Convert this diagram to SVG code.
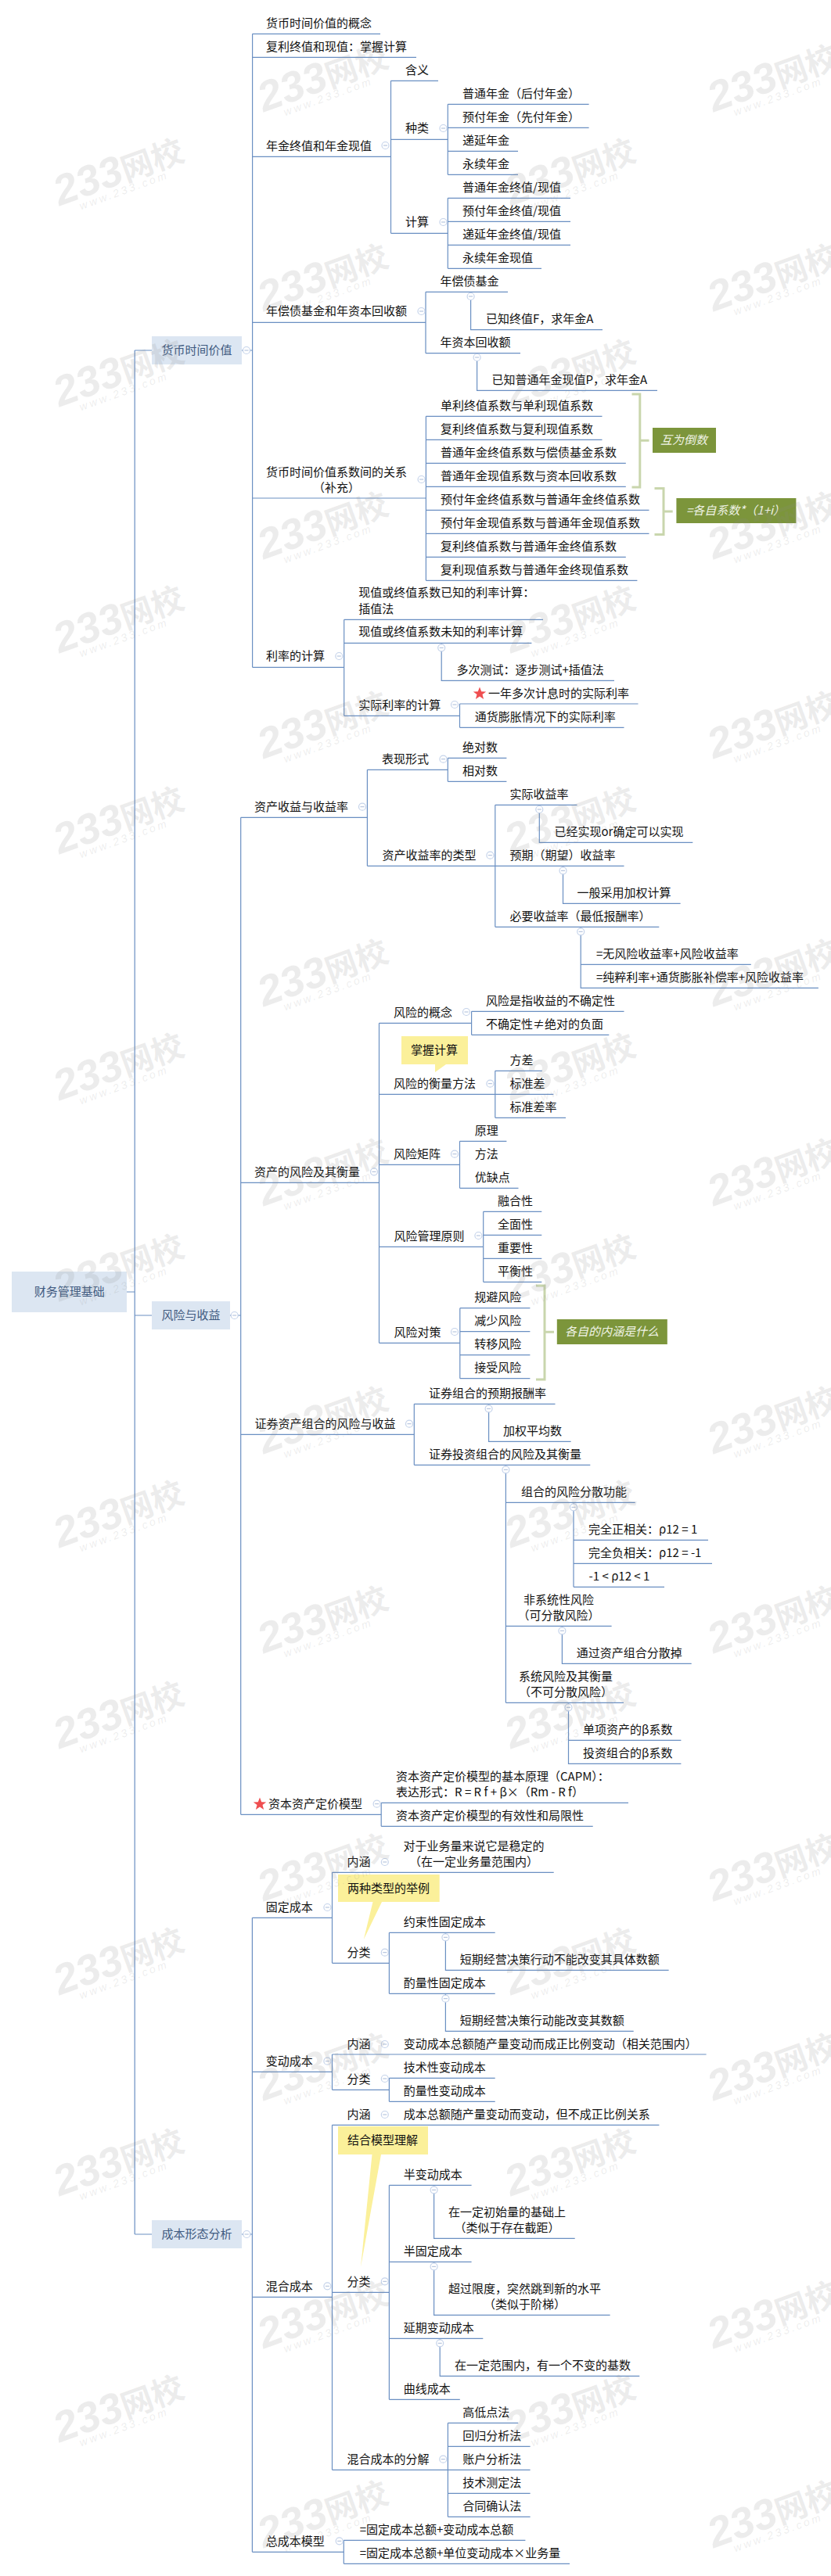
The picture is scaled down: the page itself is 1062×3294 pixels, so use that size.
<svg xmlns="http://www.w3.org/2000/svg" xmlns:xlink="http://www.w3.org/1999/xlink" width="1062" height="3294" viewBox="0 0 1062 3294">
<style>
text{font-family:"Noto Sans CJK SC","Liberation Sans",sans-serif;font-size:15px;fill:#111}
.m{text-anchor:middle}
.tp{fill:#3f5a80}
.i{font-style:italic;fill:#eef2e4}
.c{fill:none;stroke:#6a8fc2;stroke-width:1.2}
.b{fill:none;stroke:#c9d6ad;stroke-width:3}
.topic{fill:#dce6f2}
.green{fill:#7c953b}
.y{fill:#fbf09a}
.t{fill:#fff;stroke:#c5d3ea;stroke-width:1.2}
.tm{stroke:#a9bbd8;stroke-width:1;fill:none}
.s{fill:#ef4e50}
text.w1,text.w2{fill:#8a8a8a;fill-opacity:.16;text-anchor:middle}
text.w1{font-family:"Liberation Sans","Noto Sans CJK SC",sans-serif;font-size:54px;font-weight:700;font-style:italic}
.w1 tspan{font-family:"Noto Sans CJK SC",sans-serif;font-size:41px;font-style:normal}
text.w2{font-family:"Liberation Sans",sans-serif;font-size:14px;font-style:italic;letter-spacing:3px}
</style>
<defs>
<g id="tg"><circle class="t" r="4.5"/><path class="tm" d="M-2.5 0H2.5"/></g>
<polygon id="star" class="s" points="0,-8.5 2.2,-2.7 8.2,-2.6 3.5,1.1 5.1,7 0,3.6 -5.1,7 -3.5,1.1 -8.2,-2.6 -2.2,-2.7"/>
<g id="wm"><text class="w1" y="15">233<tspan>网校</tspan></text><text class="w2" x="-2" y="29">www.233.com</text></g>
</defs>
<rect width="1062" height="3294" fill="#fff"/>

<g id="brackets">
<path class="b" d="M807.5 504H817.8V623H807.5M817.8 563.3H829.5"/>
<path class="b" d="M836.5 624.5H848V683.5H836.5M848 654H859.7"/>
<path class="b" d="M685 1644H696V1764H685M696 1703.3H708"/>
</g>

<g id="connectors">
<path class="c" d="M162 1652H172.2M172.2 448V2857M172.2 448H194M172.2 1682H194M172.2 2857H194"/>
<path class="c" d="M309 448H322.6M322.6 43.3V853.3M322.6 43.3H486M322.6 73.3H532M322.6 200.3H499.5M322.6 412.3H544M322.6 637H544.4M322.6 853.3H439.7"/>
<path class="c" d="M499.5 103.3V298.3M499.5 103.3H560M499.5 178.3H572.3M499.5 298.3H572.3"/>
<path class="c" d="M572.3 133.3V223.3M572.3 133.3H752.6M572.3 163.3H752.6M572.3 193.3H662M572.3 223.3H662"/>
<path class="c" d="M572.3 253.3V343.3M572.3 253.3H729M572.3 283.3H729M572.3 313.3H729M572.3 343.3H692"/>
<path class="c" d="M544 373.3V451.7M544 373.3H649M544 451.7H665M601.6 373.3V421.7H770M609.6 451.7V499.3H840"/>
<path class="c" d="M544.4 532.3V742.3M544.4 532.3H769.5M544.4 562.3H769.5M544.4 592.3H799.8M544.4 622.3H799.8M544.4 652.3H829.5M544.4 682.3H829.5M544.4 712.3H799.8M544.4 742.3H814.4"/>
<path class="c" d="M439.7 792.3V915.3M439.7 792.3H694M439.7 822.3H679.4M439.7 915.3H587.5M564.2 822.3V870.3H785M587.5 900V930.3M587.5 900H815.5M587.5 930.3H797.5"/>
<path class="c" d="M294 1682H307.7M307.7 1045.3V2320.3M307.7 1045.3H469.4M307.7 1512.3H484.5M307.7 1834.3H529.3M307.7 2320.3H487.2"/>
<path class="c" d="M469.4 984.3V1107.3M469.4 984.3H572.3M469.4 1107.3H797.5M572.3 969.3V999.3M572.3 969.3H647.4M572.3 999.3H647.4"/>
<path class="c" d="M632.8 1029.3V1185.3M632.8 1029.3H737.5M632.8 1185.3H842.3M689.3 1029.3V1077.3H885.3M719.5 1107.3V1155.3H869.6M742.2 1185.3V1263.3H1045.9M742.2 1233.3H959.8"/>
<path class="c" d="M484.5 1308.3V1717.3M484.5 1308.3H602.6M484.5 1399.3H707.3M484.5 1489.3H587.5M484.5 1594.3H617.7M484.5 1717.3H587.8"/>
<path class="c" d="M602.6 1293.3V1323.3M602.6 1293.3H797.5M602.6 1323.3H778.3M632.8 1369.3V1429.3M632.8 1369.3H692.8M632.8 1429.3H723"/>
<path class="c" d="M587.5 1459.3V1519.3M587.5 1459.3H647.4M587.5 1519.3H662.5"/>
<path class="c" d="M617.7 1549.3V1639.3M617.7 1549.3H692.3M617.7 1579.3H692.3M617.7 1609.3H692.3M617.7 1639.3H692.3"/>
<path class="c" d="M587.8 1672.7V1762.7M587.8 1672.7H677.4M587.8 1702.7H677.4M587.8 1732.7H677.4M587.8 1762.7H677.4"/>
<path class="c" d="M529.3 1795.3V1873.3M529.3 1795.3H709.5M529.3 1873.3H754.3M624.6 1795.3V1843.3H729.6"/>
<path class="c" d="M646.4 1873.3V2177.3M646.4 1921.3H811.7M646.4 2079.3H781.6M646.4 2177.3H797"/>
<path class="c" d="M733 1921.3V2029.3M733 1969.3H905M733 1999.3H910M733 2029.3H849M718.4 2079.3V2127.3H883.7M726.5 2177.3V2255.3H870.4M726.5 2225.3H870.4"/>
<path class="c" d="M487.2 2305.3V2335.3M487.2 2305.3H803M487.2 2335.3H757.7"/>
<path class="c" d="M309 2857H322.4M322.4 2452.3V3263.3M322.4 2452.3H424.5M322.4 2649.3H424.5M322.4 2937.3H424.5M322.4 3263.3H439.3"/>
<path class="c" d="M424.5 2394.3V2510.3M424.5 2394.3H707.7M424.5 2510.3H497.4M497.4 2471.3V2549.3M497.4 2471.3H632.7M497.4 2549.3H632.7M569.4 2471.3V2519.3H854.6M569.4 2549.3V2597.3H809.7"/>
<path class="c" d="M424.5 2627V2672.3M424.5 2627H902.6M424.5 2672.3H497.4M497.4 2657.3V2687.3M497.4 2657.3H632.7M497.4 2687.3H632.7"/>
<path class="c" d="M424.5 2717.3V3158.3M424.5 2717.3H842.4M424.5 2931.3H497.4M424.5 3158.3H572.4"/>
<path class="c" d="M497.4 2794.3V3068.3M497.4 2794.3H602.6M497.4 2892.3H602.6M497.4 2990.3H617.3M497.4 3068.3H587.8M554.6 2794.3V2862.3H734.7M554.6 2892.3V2960.3H779.6M562.2 2990.3V3038.3H817.3"/>
<path class="c" d="M572.4 3098.3V3218.3M572.4 3098.3H662.2M572.4 3128.3H677.6M572.4 3158.3H677.6M572.4 3188.3H677.6M572.4 3218.3H677.6"/>
<path class="c" d="M439.3 3248.3V3278.3M439.3 3248.3H671.4M439.3 3278.3H728"/>
</g>

<g id="toggles">
<use xlink:href="#tg" href="#tg" x="315" y="448"/><use xlink:href="#tg" href="#tg" x="492.5" y="186"/><use xlink:href="#tg" href="#tg" x="566.5" y="164"/><use xlink:href="#tg" href="#tg" x="566.5" y="284"/><use xlink:href="#tg" href="#tg" x="538.5" y="398"/><use xlink:href="#tg" href="#tg" x="601.6" y="379"/><use xlink:href="#tg" href="#tg" x="609.6" y="457"/><use xlink:href="#tg" href="#tg" x="538.6" y="613"/><use xlink:href="#tg" href="#tg" x="433.3" y="839"/><use xlink:href="#tg" href="#tg" x="564.2" y="828.3"/><use xlink:href="#tg" href="#tg" x="581" y="901"/><use xlink:href="#tg" href="#tg" x="566.5" y="970.7"/>
<use xlink:href="#tg" href="#tg" x="689.3" y="1035"/><use xlink:href="#tg" href="#tg" x="463" y="1031.7"/><use xlink:href="#tg" href="#tg" x="626.4" y="1093.7"/><use xlink:href="#tg" href="#tg" x="719.5" y="1113.3"/><use xlink:href="#tg" href="#tg" x="742.2" y="1191.3"/><use xlink:href="#tg" href="#tg" x="596" y="1294"/><use xlink:href="#tg" href="#tg" x="626.4" y="1385.7"/><use xlink:href="#tg" href="#tg" x="581" y="1475.7"/><use xlink:href="#tg" href="#tg" x="478" y="1498.3"/><use xlink:href="#tg" href="#tg" x="611.4" y="1580"/><use xlink:href="#tg" href="#tg" x="581" y="1703"/><use xlink:href="#tg" href="#tg" x="299.7" y="1682"/>
<use xlink:href="#tg" href="#tg" x="523" y="1820.7"/><use xlink:href="#tg" href="#tg" x="624.6" y="1801.3"/><use xlink:href="#tg" href="#tg" x="646.4" y="1879.3"/><use xlink:href="#tg" href="#tg" x="733" y="1927.3"/><use xlink:href="#tg" href="#tg" x="718.4" y="2085.3"/><use xlink:href="#tg" href="#tg" x="726.5" y="2183.3"/><use xlink:href="#tg" href="#tg" x="481.6" y="2306.7"/>
<use xlink:href="#tg" href="#tg" x="418.4" y="2439"/><use xlink:href="#tg" href="#tg" x="491.8" y="2381"/><use xlink:href="#tg" href="#tg" x="491.8" y="2496.7"/><use xlink:href="#tg" href="#tg" x="569.4" y="2477.3"/><use xlink:href="#tg" href="#tg" x="569.4" y="2555.7"/><use xlink:href="#tg" href="#tg" x="418.4" y="2635.7"/><use xlink:href="#tg" href="#tg" x="491.8" y="2614"/><use xlink:href="#tg" href="#tg" x="491.8" y="2658"/><use xlink:href="#tg" href="#tg" x="491.8" y="2704"/>
<use xlink:href="#tg" href="#tg" x="315.3" y="2857"/><use xlink:href="#tg" href="#tg" x="554.6" y="2800.3"/><use xlink:href="#tg" href="#tg" x="554.6" y="2898.3"/><use xlink:href="#tg" href="#tg" x="562.2" y="2996.3"/><use xlink:href="#tg" href="#tg" x="491.8" y="2917.3"/><use xlink:href="#tg" href="#tg" x="418.4" y="2923.3"/><use xlink:href="#tg" href="#tg" x="566.3" y="3144.7"/><use xlink:href="#tg" href="#tg" x="433.7" y="3249.3"/>
</g>

<g id="root"><rect class="topic" x="15" y="1626" width="147" height="52"/><text class="m tp" x="88.7" y="1657">财务管理基础</text></g>
<g id="t1"><rect class="topic" x="194" y="430" width="115" height="36"/><text class="tp" x="206.6" y="453">货币时间价值</text></g>
<g id="t2"><rect class="topic" x="194" y="1664" width="100" height="36"/><text class="tp" x="206.6" y="1687">风险与收益</text></g>
<g id="t3"><rect class="topic" x="194" y="2839" width="115" height="36"/><text class="tp" x="206.6" y="2862">成本形态分析</text></g>

<g id="n1"><text x="340" y="35">货币时间价值的概念</text></g>
<g id="n2"><text x="340" y="65">复利终值和现值：掌握计算</text></g>
<g id="n3"><text x="340" y="192">年金终值和年金现值</text></g>
<g id="n4"><text x="518" y="95">含义</text></g>
<g id="n5"><text x="518" y="169">种类</text></g>
<g id="n6"><text x="591" y="125">普通年金（后付年金）</text></g>
<g id="n7"><text x="591" y="155">预付年金（先付年金）</text></g>
<g id="n8"><text x="591" y="185">递延年金</text></g>
<g id="n9"><text x="591" y="215">永续年金</text></g>
<g id="n10"><text x="518" y="289">计算</text></g>
<g id="n11"><text x="591" y="245">普通年金终值/现值</text></g>
<g id="n12"><text x="591" y="275">预付年金终值/现值</text></g>
<g id="n13"><text x="591" y="305">递延年金终值/现值</text></g>
<g id="n14"><text x="591" y="335">永续年金现值</text></g>
<g id="n15"><text x="340" y="403">年偿债基金和年资本回收额</text></g>
<g id="n16"><text x="562.6" y="365">年偿债基金</text></g>
<g id="n17"><text x="621" y="413">已知终值F，求年金A</text></g>
<g id="n18"><text x="562.6" y="443">年资本回收额</text></g>
<g id="n19"><text x="628.6" y="491">已知普通年金现值P，求年金A</text></g>
<g id="n20"><text class="m" x="430" y="609">货币时间价值系数间的关系<tspan x="430" y="629">（补充）</tspan></text></g>
<g id="n21"><text x="563" y="524">单利终值系数与单利现值系数</text></g>
<g id="n22"><text x="563" y="554">复利终值系数与复利现值系数</text></g>
<g id="n23"><text x="563" y="584">普通年金终值系数与偿债基金系数</text></g>
<g id="n24"><text x="563" y="614">普通年金现值系数与资本回收系数</text></g>
<g id="n25"><text x="563" y="644">预付年金终值系数与普通年金终值系数</text></g>
<g id="n26"><text x="563" y="674">预付年金现值系数与普通年金现值系数</text></g>
<g id="n27"><text x="563" y="704">复利终值系数与普通年金终值系数</text></g>
<g id="n28"><text x="563" y="734">复利现值系数与普通年金终现值系数</text></g>
<g id="s1"><rect class="green" x="834" y="547" width="81" height="32"/><text class="i" x="844" y="568">互为倒数</text></g>
<g id="s2"><rect class="green" x="864.4" y="637" width="153" height="32"/><text class="i" x="877" y="658">=各自系数*（1+i）</text></g>
<g id="n29"><text x="340" y="844">利率的计算</text></g>
<g id="n30"><text x="458.3" y="763">现值或终值系数已知的利率计算：<tspan x="458.3" y="784">插值法</tspan></text></g>
<g id="n31"><text x="458.3" y="813">现值或终值系数未知的利率计算</text></g>
<g id="n32"><text x="583.4" y="862">多次测试：逐步测试+插值法</text></g>
<g id="n33"><text x="458.3" y="907">实际利率的计算</text></g>
<g id="n34"><use xlink:href="#star" href="#star" x="613" y="887"/><text x="624" y="892">一年多次计息时的实际利率</text></g>
<g id="n35"><text x="606.7" y="922">通货膨胀情况下的实际利率</text></g>
<g id="n36"><text x="325" y="1037">资产收益与收益率</text></g>
<g id="n37"><text x="488" y="976">表现形式</text></g>
<g id="n38"><text x="591" y="961">绝对数</text></g>
<g id="n39"><text x="591" y="991">相对数</text></g>
<g id="n40"><text x="488.6" y="1099">资产收益率的类型</text></g>
<g id="n41"><text x="651.5" y="1021">实际收益率</text></g>
<g id="n42"><text x="708.5" y="1069">已经实现or确定可以实现</text></g>
<g id="n43"><text x="651.5" y="1099">预期（期望）收益率</text></g>
<g id="n44"><text x="737.5" y="1147">一般采用加权计算</text></g>
<g id="n45"><text x="651.5" y="1177">必要收益率（最低报酬率）</text></g>
<g id="n46"><text x="762" y="1225">=无风险收益率+风险收益率</text></g>
<g id="n47"><text x="762" y="1255">=纯粹利率+通货膨胀补偿率+风险收益率</text></g>
<g id="n48"><text x="325" y="1504">资产的风险及其衡量</text></g>
<g id="n49"><text x="503" y="1300">风险的概念</text></g>
<g id="n50"><text x="621" y="1285">风险是指收益的不确定性</text></g>
<g id="n51"><text x="621" y="1315">不确定性≠绝对的负面</text></g>
<g id="c1"><path class="y" d="M513 1325H598V1361H570L556 1371V1361H513Z"/><text x="525" y="1348">掌握计算</text></g>
<g id="n52"><text x="503" y="1391">风险的衡量方法</text></g>
<g id="n53"><text x="651.5" y="1361">方差</text></g>
<g id="n54"><text x="651.5" y="1391">标准差</text></g>
<g id="n55"><text x="651.5" y="1421">标准差率</text></g>
<g id="n56"><text x="503" y="1481">风险矩阵</text></g>
<g id="n57"><text x="606.7" y="1451">原理</text></g>
<g id="n58"><text x="606.7" y="1481">方法</text></g>
<g id="n59"><text x="606.7" y="1511">优缺点</text></g>
<g id="n60"><text x="503.4" y="1586">风险管理原则</text></g>
<g id="n61"><text x="636" y="1541">融合性</text></g>
<g id="n62"><text x="636" y="1571">全面性</text></g>
<g id="n63"><text x="636" y="1601">重要性</text></g>
<g id="n64"><text x="636" y="1631">平衡性</text></g>
<g id="n65"><text x="503.4" y="1709">风险对策</text></g>
<g id="n66"><text x="606.2" y="1664">规避风险</text></g>
<g id="n67"><text x="606.2" y="1694">减少风险</text></g>
<g id="n68"><text x="606.2" y="1724">转移风险</text></g>
<g id="n69"><text x="606.2" y="1754">接受风险</text></g>
<g id="s3"><rect class="green" x="711.8" y="1687" width="141" height="32"/><text class="i" x="722" y="1708">各自的内涵是什么</text></g>
<g id="n70"><text x="325.5" y="1826">证券资产组合的风险与收益</text></g>
<g id="n71"><text x="548" y="1787">证券组合的预期报酬率</text></g>
<g id="n72"><text x="643" y="1835">加权平均数</text></g>
<g id="n73"><text x="548" y="1865">证券投资组合的风险及其衡量</text></g>
<g id="n74"><text x="666" y="1913">组合的风险分散功能</text></g>
<g id="n75"><text x="752" y="1961">完全正相关：ρ12 = 1</text></g>
<g id="n76"><text x="752" y="1991">完全负相关：ρ12 = -1</text></g>
<g id="n77"><text x="752.6" y="2021">-1 &lt; ρ12 &lt; 1</text></g>
<g id="n78"><text class="m" x="714" y="2051">非系统性风险<tspan x="714" y="2071">（可分散风险）</tspan></text></g>
<g id="n79"><text x="736.7" y="2119">通过资产组合分散掉</text></g>
<g id="n80"><text class="m" x="723" y="2149">系统风险及其衡量<tspan x="723" y="2169">（不可分散风险）</tspan></text></g>
<g id="n81"><text x="745" y="2217">单项资产的β系数</text></g>
<g id="n82"><text x="745" y="2247">投资组合的β系数</text></g>
<g id="n83"><use xlink:href="#star" href="#star" x="332" y="2307"/><text x="343" y="2312">资本资产定价模型</text></g>
<g id="n84"><text x="506" y="2277">资本资产定价模型的基本原理（CAPM）：<tspan x="506" y="2297">表达形式：R = R f + β×（Rm - R f）</tspan></text></g>
<g id="n85"><text x="506" y="2327">资本资产定价模型的有效性和局限性</text></g>
<g id="n86"><text x="339.8" y="2444">固定成本</text></g>
<g id="n87"><text x="443.4" y="2386">内涵</text></g>
<g id="n88"><text class="m" x="605.5" y="2366">对于业务量来说它是稳定的<tspan x="605.5" y="2386">（在一定业务量范围内）</tspan></text></g>
<g id="c2"><path class="y" d="M432 2397H561.7V2432H488L464.8 2480L476.5 2432H432Z"/><text x="443.9" y="2420">两种类型的举例</text></g>
<g id="n89"><text x="443.4" y="2502">分类</text></g>
<g id="n90"><text x="515.8" y="2463">约束性固定成本</text></g>
<g id="n91"><text x="587.8" y="2511">短期经营决策行动不能改变其具体数额</text></g>
<g id="n92"><text x="515.8" y="2541">酌量性固定成本</text></g>
<g id="n93"><text x="587.8" y="2589">短期经营决策行动能改变其数额</text></g>
<g id="n94"><text x="339.8" y="2641">变动成本</text></g>
<g id="n95"><text x="443.4" y="2619">内涵</text></g>
<g id="n96"><text x="515.8" y="2619">变动成本总额随产量变动而成正比例变动（相关范围内）</text></g>
<g id="n97"><text x="443.4" y="2664">分类</text></g>
<g id="n98"><text x="515.8" y="2649">技术性变动成本</text></g>
<g id="n99"><text x="515.8" y="2679">酌量性变动成本</text></g>
<g id="n100"><text x="339.8" y="2929">混合成本</text></g>
<g id="n101"><text x="443.4" y="2709">内涵</text></g>
<g id="n102"><text x="515.8" y="2709">成本总额随产量变动而变动，但不成正比例关系</text></g>
<g id="c3"><path class="y" d="M432 2719H547V2755H487L461 2899L475.5 2755H432Z"/><text x="443.9" y="2742">结合模型理解</text></g>
<g id="n103"><text x="443.4" y="2923">分类</text></g>
<g id="n104"><text x="515.8" y="2786">半变动成本</text></g>
<g id="n105"><text class="m" x="648" y="2834">在一定初始量的基础上<tspan x="648" y="2854">（类似于存在截距）</tspan></text></g>
<g id="n106"><text x="515.8" y="2884">半固定成本</text></g>
<g id="n107"><text class="m" x="670.4" y="2932">超过限度，突然跳到新的水平<tspan x="670.4" y="2952">（类似于阶梯）</tspan></text></g>
<g id="n108"><text x="515.8" y="2982">延期变动成本</text></g>
<g id="n109"><text x="581" y="3030">在一定范围内，有一个不变的基数</text></g>
<g id="n110"><text x="515.8" y="3060">曲线成本</text></g>
<g id="n111"><text x="443.4" y="3150">混合成本的分解</text></g>
<g id="n112"><text x="591.3" y="3090">高低点法</text></g>
<g id="n113"><text x="591.3" y="3120">回归分析法</text></g>
<g id="n114"><text x="591.3" y="3150">账户分析法</text></g>
<g id="n115"><text x="591.3" y="3180">技术测定法</text></g>
<g id="n116"><text x="591.3" y="3210">合同确认法</text></g>
<g id="n117"><text x="339.8" y="3255">总成本模型</text></g>
<g id="n118"><text x="459.7" y="3240">=固定成本总额+变动成本总额</text></g>
<g id="n119"><text x="459.7" y="3270">=固定成本总额+单位变动成本×业务量</text></g>

<g id="watermarks">
<use href="#wm" transform="translate(152 220) rotate(-20)"/><use href="#wm" transform="translate(152 477) rotate(-20)"/><use href="#wm" transform="translate(152 792) rotate(-20)"/><use href="#wm" transform="translate(152 1049) rotate(-20)"/><use href="#wm" transform="translate(152 1364) rotate(-20)"/><use href="#wm" transform="translate(152 1621) rotate(-20)"/><use href="#wm" transform="translate(152 1936) rotate(-20)"/><use href="#wm" transform="translate(152 2193) rotate(-20)"/><use href="#wm" transform="translate(152 2508) rotate(-20)"/><use href="#wm" transform="translate(152 2765) rotate(-20)"/><use href="#wm" transform="translate(152 3080) rotate(-20)"/>
<use href="#wm" transform="translate(729 220) rotate(-20)"/><use href="#wm" transform="translate(729 477) rotate(-20)"/><use href="#wm" transform="translate(729 792) rotate(-20)"/><use href="#wm" transform="translate(729 1049) rotate(-20)"/><use href="#wm" transform="translate(729 1364) rotate(-20)"/><use href="#wm" transform="translate(729 1621) rotate(-20)"/><use href="#wm" transform="translate(729 1936) rotate(-20)"/><use href="#wm" transform="translate(729 2193) rotate(-20)"/><use href="#wm" transform="translate(729 2508) rotate(-20)"/><use href="#wm" transform="translate(729 2765) rotate(-20)"/><use href="#wm" transform="translate(729 3080) rotate(-20)"/>
<use href="#wm" transform="translate(413 100) rotate(-20)"/><use href="#wm" transform="translate(413 355) rotate(-20)"/><use href="#wm" transform="translate(413 672) rotate(-20)"/><use href="#wm" transform="translate(413 927) rotate(-20)"/><use href="#wm" transform="translate(413 1244) rotate(-20)"/><use href="#wm" transform="translate(413 1499) rotate(-20)"/><use href="#wm" transform="translate(413 1816) rotate(-20)"/><use href="#wm" transform="translate(413 2071) rotate(-20)"/><use href="#wm" transform="translate(413 2388) rotate(-20)"/><use href="#wm" transform="translate(413 2643) rotate(-20)"/><use href="#wm" transform="translate(413 2960) rotate(-20)"/><use href="#wm" transform="translate(413 3215) rotate(-20)"/>
<use href="#wm" transform="translate(988 100) rotate(-20)"/><use href="#wm" transform="translate(988 355) rotate(-20)"/><use href="#wm" transform="translate(988 672) rotate(-20)"/><use href="#wm" transform="translate(988 927) rotate(-20)"/><use href="#wm" transform="translate(988 1244) rotate(-20)"/><use href="#wm" transform="translate(988 1499) rotate(-20)"/><use href="#wm" transform="translate(988 1816) rotate(-20)"/><use href="#wm" transform="translate(988 2071) rotate(-20)"/><use href="#wm" transform="translate(988 2388) rotate(-20)"/><use href="#wm" transform="translate(988 2643) rotate(-20)"/><use href="#wm" transform="translate(988 2960) rotate(-20)"/><use href="#wm" transform="translate(988 3215) rotate(-20)"/>
</g>
</svg>
